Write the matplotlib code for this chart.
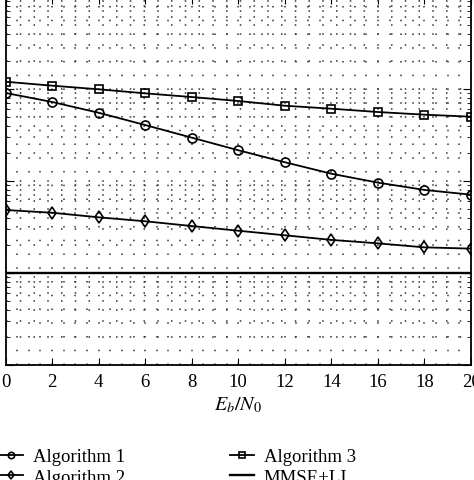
import numpy as np
import matplotlib
matplotlib.use("Agg")
import matplotlib.pyplot as plt
from matplotlib.ticker import LogLocator, MultipleLocator, NullFormatter

plt.rcParams['font.family'] = ['Liberation Serif', 'DejaVu Serif']
plt.rcParams['mathtext.fontset'] = 'stix'

# Eb/N0 values and error rates
ebn0 = [0, 2, 4, 6, 8, 10, 12, 14, 16, 18, 20]
alg1 = [0.0906, 0.0723, 0.0552, 0.0406, 0.0296, 0.0216, 0.0160, 0.0120, 0.0096, 0.0080, 0.0071]
alg2 = [0.00484, 0.00452, 0.00403, 0.00365, 0.00324, 0.00288, 0.00257, 0.00229, 0.00210, 0.00190, 0.00184]
alg3 = [0.120, 0.1087, 0.0993, 0.0897, 0.0818, 0.0741, 0.0658, 0.0611, 0.0562, 0.0526, 0.0500]
mmse = [1e-3] * len(ebn0)
labels = ['Algorithm 1', 'Algorithm 2', 'Algorithm 3', 'MMSE+LI']

W, H = 474, 481
fig = plt.figure(figsize=(W / 100, H / 100), dpi=100)
ax = fig.add_axes([5.5 / W, 1 - 366 / H, (471 - 5.5) / W, 368 / H])

mk = dict(color='k', lw=1.3, markerfacecolor='none', markeredgewidth=1.2)
ax.semilogy(ebn0, alg1, marker='o', markersize=6.5, label=labels[0], **mk)
ax.semilogy(ebn0, alg2, marker='d', markersize=6.5, label=labels[1], **mk)
ax.semilogy(ebn0, alg3, marker='s', markersize=6, label=labels[2], **mk)
ax.semilogy(ebn0, mmse, color='k', lw=1.7, label=labels[3])

ax.set_xlim(0, 20)
ax.set_ylim(1e-4, 1e0)
ax.xaxis.set_major_locator(MultipleLocator(2))
ax.xaxis.set_minor_locator(MultipleLocator(0.5))
ax.yaxis.set_major_locator(LogLocator(base=10))
ax.yaxis.set_minor_locator(LogLocator(base=10, subs=np.arange(2, 10)))
ax.yaxis.set_minor_formatter(NullFormatter())

# sparse dotted grid, matlab style
ax.grid(True, which='both', color='0.2', lw=1.1, linestyle=(0, (1, 8)))
ax.tick_params(which='both', direction='in', top=True, right=True, labelsize=13.5)
ax.tick_params(axis='x', which='major', length=5, pad=6)
ax.tick_params(axis='x', which='minor', length=0)
ax.tick_params(axis='y', which='major', length=6)
ax.tick_params(axis='y', which='minor', length=3)
for s in ax.spines.values():
    s.set_linewidth(1.3)

ax.set_xlabel(r'$E_b/N_0$', fontsize=14.5, labelpad=3)

fig.legend(loc='upper left', bbox_to_anchor=(-1 / W, 1 - 449 / H), ncol=2,
           frameon=False, fontsize=13.5, handlelength=1.3, handletextpad=0.5,
           columnspacing=5.6, labelspacing=0.2, borderpad=0, borderaxespad=0,
           markerscale=0.7)

fig.savefig('out.png', dpi=100)
